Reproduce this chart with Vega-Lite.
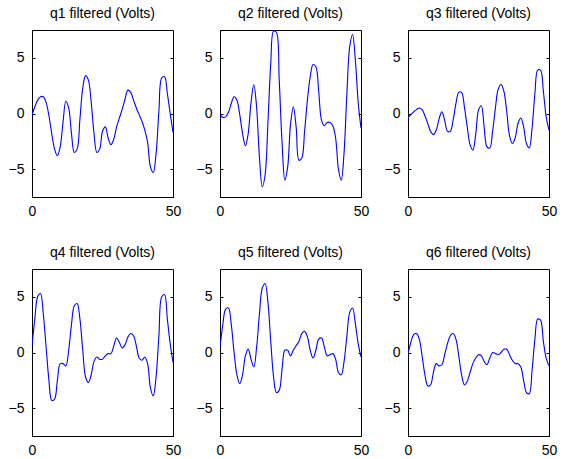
{
"$schema": "https://vega.github.io/schema/vega-lite/v6.json",
"padding": {"left": 7, "top": 6, "right": 0, "bottom": 0},
"background": "white",
"datasets": {"raw": [
{"q":"q1","t":0,"v":-0.15},{"q":"q1","t":1,"v":0.6},{"q":"q1","t":2,"v":1.2},{"q":"q1","t":3,"v":1.5},{"q":"q1","t":4,"v":1.5},{"q":"q1","t":5,"v":1.0},{"q":"q1","t":6,"v":-0.2},{"q":"q1","t":7,"v":-1.8},{"q":"q1","t":8,"v":-3.2},{"q":"q1","t":9,"v":-3.8},{"q":"q1","t":10,"v":-3.0},{"q":"q1","t":11,"v":-0.8},{"q":"q1","t":12,"v":1.1},{"q":"q1","t":13,"v":0.5},{"q":"q1","t":14,"v":-1.8},{"q":"q1","t":15,"v":-3.5},{"q":"q1","t":16,"v":-3.2},{"q":"q1","t":17,"v":-0.5},{"q":"q1","t":18,"v":2.3},{"q":"q1","t":19,"v":3.4},{"q":"q1","t":20,"v":3.0},{"q":"q1","t":21,"v":1.0},{"q":"q1","t":22,"v":-1.8},{"q":"q1","t":23,"v":-3.5},{"q":"q1","t":24,"v":-3.2},{"q":"q1","t":25,"v":-1.6},{"q":"q1","t":26,"v":-1.2},{"q":"q1","t":27,"v":-2.2},{"q":"q1","t":28,"v":-2.8},{"q":"q1","t":29,"v":-2.3},{"q":"q1","t":30,"v":-1.2},{"q":"q1","t":31,"v":-0.4},{"q":"q1","t":32,"v":0.4},{"q":"q1","t":33,"v":1.3},{"q":"q1","t":34,"v":2.1},{"q":"q1","t":35,"v":1.9},{"q":"q1","t":36,"v":1.2},{"q":"q1","t":37,"v":0.5},{"q":"q1","t":38,"v":-0.1},{"q":"q1","t":39,"v":-0.7},{"q":"q1","t":40,"v":-1.5},{"q":"q1","t":41,"v":-2.6},{"q":"q1","t":42,"v":-4.8},{"q":"q1","t":43,"v":-5.3},{"q":"q1","t":44,"v":-3.6},{"q":"q1","t":45,"v":0.2},{"q":"q1","t":46,"v":3.2},{"q":"q1","t":47,"v":3.3},{"q":"q1","t":48,"v":1.8},{"q":"q1","t":49,"v":0.0},{"q":"q1","t":50,"v":-1.7},
{"q":"q2","t":0,"v":-0.1},{"q":"q2","t":1,"v":-0.35},{"q":"q2","t":2,"v":-0.3},{"q":"q2","t":3,"v":0.1},{"q":"q2","t":4,"v":0.9},{"q":"q2","t":5,"v":1.5},{"q":"q2","t":6,"v":1.2},{"q":"q2","t":7,"v":-0.1},{"q":"q2","t":8,"v":-1.8},{"q":"q2","t":9,"v":-2.9},{"q":"q2","t":10,"v":-1.8},{"q":"q2","t":11,"v":1.0},{"q":"q2","t":12,"v":2.6},{"q":"q2","t":13,"v":0.5},{"q":"q2","t":14,"v":-4.0},{"q":"q2","t":15,"v":-6.6},{"q":"q2","t":16,"v":-5.5},{"q":"q2","t":17,"v":-0.8},{"q":"q2","t":18,"v":4.5},{"q":"q2","t":19,"v":7.4},{"q":"q2","t":20,"v":7.3},{"q":"q2","t":21,"v":3.0},{"q":"q2","t":22,"v":-2.6},{"q":"q2","t":23,"v":-6.0},{"q":"q2","t":24,"v":-4.8},{"q":"q2","t":25,"v":-1.0},{"q":"q2","t":26,"v":0.6},{"q":"q2","t":27,"v":-1.2},{"q":"q2","t":28,"v":-4.2},{"q":"q2","t":29,"v":-4.0},{"q":"q2","t":30,"v":-1.6},{"q":"q2","t":31,"v":1.2},{"q":"q2","t":32,"v":3.3},{"q":"q2","t":33,"v":4.4},{"q":"q2","t":34,"v":4.2},{"q":"q2","t":35,"v":2.0},{"q":"q2","t":36,"v":-0.6},{"q":"q2","t":37,"v":-1.1},{"q":"q2","t":38,"v":-0.8},{"q":"q2","t":39,"v":-0.8},{"q":"q2","t":40,"v":-1.1},{"q":"q2","t":41,"v":-2.2},{"q":"q2","t":42,"v":-5.0},{"q":"q2","t":43,"v":-6.0},{"q":"q2","t":44,"v":-3.5},{"q":"q2","t":45,"v":1.8},{"q":"q2","t":46,"v":6.0},{"q":"q2","t":47,"v":7.1},{"q":"q2","t":48,"v":4.8},{"q":"q2","t":49,"v":1.0},{"q":"q2","t":50,"v":-1.3},
{"q":"q3","t":0,"v":-0.35},{"q":"q3","t":1,"v":-0.1},{"q":"q3","t":2,"v":0.15},{"q":"q3","t":3,"v":0.35},{"q":"q3","t":4,"v":0.5},{"q":"q3","t":5,"v":0.35},{"q":"q3","t":6,"v":-0.2},{"q":"q3","t":7,"v":-0.9},{"q":"q3","t":8,"v":-1.6},{"q":"q3","t":9,"v":-1.9},{"q":"q3","t":10,"v":-1.5},{"q":"q3","t":11,"v":-0.5},{"q":"q3","t":12,"v":0.15},{"q":"q3","t":13,"v":-0.6},{"q":"q3","t":14,"v":-1.6},{"q":"q3","t":15,"v":-1.6},{"q":"q3","t":16,"v":-0.6},{"q":"q3","t":17,"v":0.9},{"q":"q3","t":18,"v":1.9},{"q":"q3","t":19,"v":1.9},{"q":"q3","t":20,"v":0.6},{"q":"q3","t":21,"v":-1.2},{"q":"q3","t":22,"v":-2.8},{"q":"q3","t":23,"v":-3.3},{"q":"q3","t":24,"v":-1.9},{"q":"q3","t":25,"v":0.3},{"q":"q3","t":26,"v":0.7},{"q":"q3","t":27,"v":-1.2},{"q":"q3","t":28,"v":-3.0},{"q":"q3","t":29,"v":-3.1},{"q":"q3","t":30,"v":-1.6},{"q":"q3","t":31,"v":0.5},{"q":"q3","t":32,"v":2.2},{"q":"q3","t":33,"v":2.6},{"q":"q3","t":34,"v":2.0},{"q":"q3","t":35,"v":0.2},{"q":"q3","t":36,"v":-2.0},{"q":"q3","t":37,"v":-2.7},{"q":"q3","t":38,"v":-2.2},{"q":"q3","t":39,"v":-0.9},{"q":"q3","t":40,"v":-0.4},{"q":"q3","t":41,"v":-1.2},{"q":"q3","t":42,"v":-2.7},{"q":"q3","t":43,"v":-3.1},{"q":"q3","t":44,"v":-1.3},{"q":"q3","t":45,"v":1.8},{"q":"q3","t":46,"v":3.9},{"q":"q3","t":47,"v":3.9},{"q":"q3","t":48,"v":2.0},{"q":"q3","t":49,"v":-0.3},{"q":"q3","t":50,"v":-1.5},
{"q":"q4","t":0,"v":0.6},{"q":"q4","t":1,"v":3.0},{"q":"q4","t":2,"v":5.0},{"q":"q4","t":3,"v":5.3},{"q":"q4","t":4,"v":3.5},{"q":"q4","t":5,"v":0.5},{"q":"q4","t":6,"v":-2.5},{"q":"q4","t":7,"v":-4.3},{"q":"q4","t":8,"v":-4.2},{"q":"q4","t":9,"v":-2.5},{"q":"q4","t":10,"v":-1.0},{"q":"q4","t":11,"v":-1.0},{"q":"q4","t":12,"v":-1.2},{"q":"q4","t":13,"v":0.2},{"q":"q4","t":14,"v":2.5},{"q":"q4","t":15,"v":4.2},{"q":"q4","t":16,"v":4.4},{"q":"q4","t":17,"v":3.0},{"q":"q4","t":18,"v":0.2},{"q":"q4","t":19,"v":-2.2},{"q":"q4","t":20,"v":-2.7},{"q":"q4","t":21,"v":-2.0},{"q":"q4","t":22,"v":-0.8},{"q":"q4","t":23,"v":-0.4},{"q":"q4","t":24,"v":-0.6},{"q":"q4","t":25,"v":-0.6},{"q":"q4","t":26,"v":-0.3},{"q":"q4","t":27,"v":-0.1},{"q":"q4","t":28,"v":-0.1},{"q":"q4","t":29,"v":0.6},{"q":"q4","t":30,"v":1.3},{"q":"q4","t":31,"v":0.9},{"q":"q4","t":32,"v":0.4},{"q":"q4","t":33,"v":0.7},{"q":"q4","t":34,"v":1.4},{"q":"q4","t":35,"v":1.7},{"q":"q4","t":36,"v":1.5},{"q":"q4","t":37,"v":0.6},{"q":"q4","t":38,"v":-0.5},{"q":"q4","t":39,"v":-0.7},{"q":"q4","t":40,"v":-0.4},{"q":"q4","t":41,"v":-1.0},{"q":"q4","t":42,"v":-3.2},{"q":"q4","t":43,"v":-3.9},{"q":"q4","t":44,"v":-2.2},{"q":"q4","t":45,"v":1.5},{"q":"q4","t":46,"v":5.0},{"q":"q4","t":47,"v":5.2},{"q":"q4","t":48,"v":3.0},{"q":"q4","t":49,"v":0.8},{"q":"q4","t":50,"v":-0.9},
{"q":"q5","t":0,"v":0.5},{"q":"q5","t":1,"v":2.5},{"q":"q5","t":2,"v":3.9},{"q":"q5","t":3,"v":4.0},{"q":"q5","t":4,"v":2.5},{"q":"q5","t":5,"v":0.0},{"q":"q5","t":6,"v":-2.0},{"q":"q5","t":7,"v":-2.8},{"q":"q5","t":8,"v":-2.0},{"q":"q5","t":9,"v":-0.3},{"q":"q5","t":10,"v":0.3},{"q":"q5","t":11,"v":-0.6},{"q":"q5","t":12,"v":-1.3},{"q":"q5","t":13,"v":0.5},{"q":"q5","t":14,"v":3.5},{"q":"q5","t":15,"v":5.8},{"q":"q5","t":16,"v":6.2},{"q":"q5","t":17,"v":4.5},{"q":"q5","t":18,"v":1.0},{"q":"q5","t":19,"v":-2.2},{"q":"q5","t":20,"v":-3.6},{"q":"q5","t":21,"v":-3.4},{"q":"q5","t":22,"v":-1.5},{"q":"q5","t":23,"v":0.2},{"q":"q5","t":24,"v":0.2},{"q":"q5","t":25,"v":-0.3},{"q":"q5","t":26,"v":0.2},{"q":"q5","t":27,"v":0.6},{"q":"q5","t":28,"v":1.0},{"q":"q5","t":29,"v":1.7},{"q":"q5","t":30,"v":1.9},{"q":"q5","t":31,"v":1.4},{"q":"q5","t":32,"v":0.2},{"q":"q5","t":33,"v":-0.5},{"q":"q5","t":34,"v":0.2},{"q":"q5","t":35,"v":1.2},{"q":"q5","t":36,"v":1.3},{"q":"q5","t":37,"v":0.5},{"q":"q5","t":38,"v":-0.3},{"q":"q5","t":39,"v":-0.2},{"q":"q5","t":40,"v":-0.1},{"q":"q5","t":41,"v":-0.6},{"q":"q5","t":42,"v":-1.8},{"q":"q5","t":43,"v":-2.0},{"q":"q5","t":44,"v":-0.8},{"q":"q5","t":45,"v":1.5},{"q":"q5","t":46,"v":3.6},{"q":"q5","t":47,"v":4.0},{"q":"q5","t":48,"v":2.6},{"q":"q5","t":49,"v":0.8},{"q":"q5","t":50,"v":-0.4},
{"q":"q6","t":0,"v":-0.1},{"q":"q6","t":1,"v":0.9},{"q":"q6","t":2,"v":1.6},{"q":"q6","t":3,"v":1.7},{"q":"q6","t":4,"v":1.2},{"q":"q6","t":5,"v":-0.3},{"q":"q6","t":6,"v":-2.0},{"q":"q6","t":7,"v":-3.0},{"q":"q6","t":8,"v":-2.9},{"q":"q6","t":9,"v":-1.8},{"q":"q6","t":10,"v":-1.0},{"q":"q6","t":11,"v":-1.2},{"q":"q6","t":12,"v":-1.1},{"q":"q6","t":13,"v":-0.2},{"q":"q6","t":14,"v":0.8},{"q":"q6","t":15,"v":1.5},{"q":"q6","t":16,"v":1.7},{"q":"q6","t":17,"v":1.2},{"q":"q6","t":18,"v":-0.3},{"q":"q6","t":19,"v":-2.0},{"q":"q6","t":20,"v":-2.9},{"q":"q6","t":21,"v":-2.6},{"q":"q6","t":22,"v":-1.8},{"q":"q6","t":23,"v":-1.0},{"q":"q6","t":24,"v":-0.5},{"q":"q6","t":25,"v":-0.2},{"q":"q6","t":26,"v":-0.3},{"q":"q6","t":27,"v":-0.8},{"q":"q6","t":28,"v":-1.1},{"q":"q6","t":29,"v":-0.5},{"q":"q6","t":30,"v":0.0},{"q":"q6","t":31,"v":-0.1},{"q":"q6","t":32,"v":-0.2},{"q":"q6","t":33,"v":0.0},{"q":"q6","t":34,"v":0.3},{"q":"q6","t":35,"v":0.3},{"q":"q6","t":36,"v":-0.2},{"q":"q6","t":37,"v":-0.7},{"q":"q6","t":38,"v":-1.0},{"q":"q6","t":39,"v":-1.0},{"q":"q6","t":40,"v":-1.3},{"q":"q6","t":41,"v":-2.5},{"q":"q6","t":42,"v":-3.6},{"q":"q6","t":43,"v":-3.7},{"q":"q6","t":44,"v":-1.6},{"q":"q6","t":45,"v":1.2},{"q":"q6","t":46,"v":3.0},{"q":"q6","t":47,"v":2.9},{"q":"q6","t":48,"v":1.0},{"q":"q6","t":49,"v":-0.5},{"q":"q6","t":50,"v":-1.2}
]},
"data": {"name": "raw"},
"columns": 3,
"spacing": {"column": 13, "row": 26},
"facet": {"field": "q", "type": "nominal", "title": null,
  "header": {"labelExpr": "datum.value + ' filtered (Volts)'", "labelFont": "Liberation Sans", "labelFontSize": 14, "labelFontWeight": "normal", "labelColor": "black", "labelPadding": 9}},
"resolve": {"scale": {"x": "independent", "y": "independent"}},
"spec": {
  "width": 141, "height": 167,
  "layer": [
    {"mark": {"type": "line", "color": "#0000ff", "strokeWidth": 1.1, "clip": true, "interpolate": "catmull-rom"},
     "encoding": {
       "x": {"field": "t", "type": "quantitative", "scale": {"domain": [0, 50], "nice": false, "zero": false},
             "axis": {"title": null, "values": [0, 50], "grid": false, "tickSize": -3, "labelPadding": 10, "labelFlush": false}},
       "y": {"field": "v", "type": "quantitative", "scale": {"domain": [-7.5, 7.5], "nice": false},
             "axis": {"title": null, "values": [-5, 0, 5], "grid": false, "tickSize": -3, "labelPadding": 11}}
     }},
    {"mark": {"type": "line", "opacity": 0},
     "encoding": {
       "x": {"field": "t", "type": "quantitative"},
       "y": {"field": "v", "type": "quantitative", "axis": {"orient": "right", "title": null, "values": [-5, 0, 5], "grid": false, "tickSize": -3, "labels": false, "domain": false}}
     }}
  ],
  "resolve": {"axis": {"y": "independent"}}
},
"config": {
  "view": {"stroke": "black", "strokeWidth": 1},
  "axis": {"labelFont": "Liberation Sans", "labelFontSize": 14, "labelColor": "black", "domainColor": "black", "tickColor": "black", "labelOverlap": false}
}
}
